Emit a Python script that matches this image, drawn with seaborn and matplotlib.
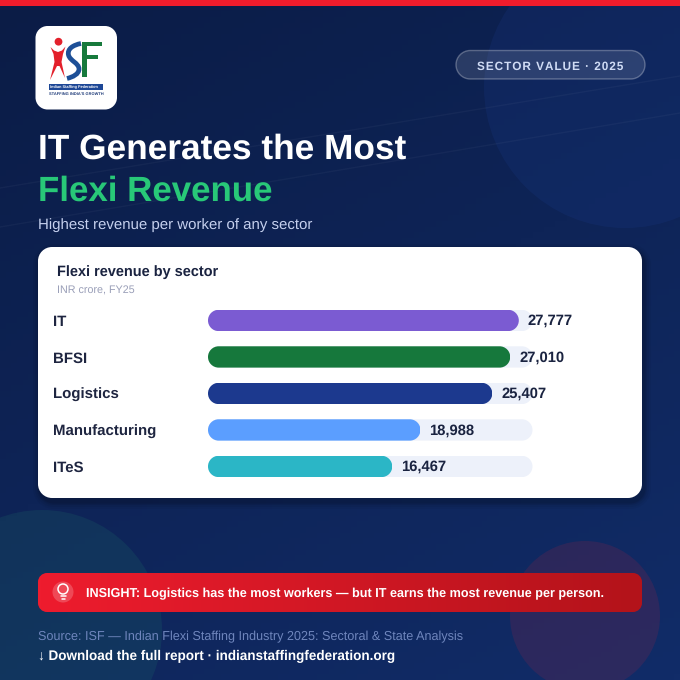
import matplotlib
matplotlib.use('Agg')
from matplotlib import pyplot as plt
from matplotlib.patches import Circle, PathPatch, Polygon, Rectangle
from matplotlib.path import Path
from matplotlib.transforms import IdentityTransform
import numpy as np
import pandas as pd
import seaborn as sns

sectors = ['IT', 'BFSI', 'Logistics', 'Manufacturing', 'ITeS']
revenue = [27777, 27010, 25407, 18988, 16467]
bar_colors = ['#7B5BD2', '#16783C', '#1C398E', '#5B9EFF', '#2BB6C6']
TRACK_MAX = 29000


def fs(px):
    # css px -> points at dpi 100
    return px * 0.72


def spaced(s):
    return '\u200a'.join(s)


def round_path(x0, y0, x1, y1, r):
    # rounded rectangle with proper circular corners (bezier kappa)
    k = r * (1 - 0.5523)
    verts = [(x0 + r, y0), (x1 - r, y0),
             (x1 - k, y0), (x1, y0 + k), (x1, y0 + r),
             (x1, y1 - r),
             (x1, y1 - k), (x1 - k, y1), (x1 - r, y1),
             (x0 + r, y1),
             (x0 + k, y1), (x0, y1 - k), (x0, y1 - r),
             (x0, y0 + r),
             (x0, y0 + k), (x0 + k, y0), (x0 + r, y0),
             (x0 + r, y0)]
    C = Path.CURVE4
    L = Path.LINETO
    codes = [Path.MOVETO, L, C, C, C, L, C, C, C, L, C, C, C, L, C, C, C, Path.CLOSEPOLY]
    return Path(verts, codes)


def rounded(ax, x0, y0, x1, y1, r, **kw):
    p = PathPatch(round_path(x0, y0, x1, y1, r), **kw)
    ax.add_patch(p)
    return p


sns.set_theme(style='white')
plt.rcParams['font.family'] = ['Liberation Sans', 'DejaVu Sans']
plt.rcParams['text.hinting'] = 'no_hinting'

fig = plt.figure(figsize=(6.8, 6.8), dpi=100)

# page layer, in pixels with y going down
bg = fig.add_axes([0, 0, 1, 1], zorder=0)
bg.set_xlim(0, 680)
bg.set_ylim(680, 0)
bg.axis('off')

yy, xx = np.mgrid[0:1:120j, 0:1:120j]
grad = 0.35 * xx + 0.65 * yy
c0 = np.array([11, 28, 70]) / 255
c1 = np.array([17, 44, 104]) / 255
bg.imshow(c0 + (c1 - c0) * grad[..., None], extent=(0, 680, 680, 0), aspect='auto', zorder=0)

bg.add_patch(Circle((625, 87), 141, fc='#1a3a8a', alpha=0.22, lw=0, zorder=1))
bg.add_patch(Circle((42, 630), 120, fc='#1f7a6a', alpha=0.18, lw=0, zorder=1))
bg.add_patch(Circle((585, 616), 75, fc='#c0203a', alpha=0.16, lw=0, zorder=1))
bg.plot([0, 680], [188, 76], color='white', alpha=0.035, lw=1, zorder=1)
bg.plot([0, 680], [227, 113], color='white', alpha=0.035, lw=1, zorder=1)
bg.add_patch(Rectangle((0, 0), 680, 6, fc='#F01C2C', lw=0, zorder=2))

# logo
rounded(bg, 35.5, 26, 117, 109.5, 12, fc='white', lw=0, zorder=3)
bg.add_patch(Circle((58.5, 41.7), 3.9, fc='#E3202B', lw=0, zorder=4))
bg.add_patch(Polygon([(50.5, 47), (54, 50.5), (58, 52), (62, 50.5), (65.5, 46.5), (63, 54), (61.5, 62),
                      (65, 78), (59.5, 66), (57, 66), (50, 80), (54.5, 62), (53.5, 54)],
                     fc='#E3202B', lw=0, zorder=4))
s_verts = [(81, 43.5), (73, 45), (67, 49), (68.5, 55), (70, 61), (79, 63), (79, 69), (79, 74), (73, 77), (67, 78.5)]
s_codes = [Path.MOVETO] + [Path.CURVE4] * 9
bg.add_patch(PathPatch(Path(s_verts, s_codes), fc='none', ec='#1D4F97', lw=3.4, capstyle='butt', zorder=4))
bg.add_patch(Rectangle((81.7, 41.7), 5.6, 35, fc='#177A3C', lw=0, zorder=4))
bg.add_patch(Rectangle((81.7, 41.7), 20, 4.3, fc='#177A3C', lw=0, zorder=4))
bg.add_patch(Rectangle((81.7, 55), 16.5, 4, fc='#177A3C', lw=0, zorder=4))
bg.add_patch(Rectangle((49, 84), 54, 6, fc='#1D4796', lw=0, zorder=4))
bg.text(50, 88.6, 'Indian Staffing Federation', color='white', fontsize=fs(3.9), fontweight='bold',
        ha='left', va='baseline', zorder=5)
bg.text(76, 94.5, "STAFFING INDIA'S GROWTH", color='#1D3A78', fontsize=fs(4), fontweight='bold',
        ha='center', va='baseline', zorder=5)

# pill
rounded(bg, 456, 50.5, 645, 79, 14.25, fc=(1, 1, 1, 0.12), ec=(1, 1, 1, 0.28), lw=1, zorder=3)
bg.text(477, 70, spaced('SECTOR VALUE · 2025'), color='#D0DCF5', fontsize=fs(11.8), fontweight='bold',
        ha='left', va='baseline', zorder=4)

# headline
bg.text(38, 159, 'IT Generates the Most', color='white', fontsize=fs(35.3), fontweight='bold',
        ha='left', va='baseline', zorder=4)
bg.text(38, 200.5, 'Flexi Revenue', color='#28C878', fontsize=fs(34.9), fontweight='bold',
        ha='left', va='baseline', zorder=4)
bg.text(38, 229, 'Highest revenue per worker of any sector', color='#C5D0EE', fontsize=fs(15),
        ha='left', va='baseline', zorder=4)

# card with soft shadow
for grow, a in [(7, 0.04), (5, 0.05), (3, 0.07), (1.5, 0.09)]:
    rounded(bg, 38 - grow + 2, 247 - grow + 4, 642 + grow + 2, 498 + grow + 4, 14 + grow,
            fc=(0, 0, 0, a), lw=0, zorder=3)
rounded(bg, 38, 247, 642, 498, 14, fc='white', lw=0, zorder=4)
bg.text(57, 276, 'Flexi revenue by sector', color='#1A2340', fontsize=fs(14.5), fontweight='bold',
        ha='left', va='baseline', zorder=5)
bg.text(57, 293.3, 'INR crore, FY25', color='#9A9FB8', fontsize=fs(10.7),
        ha='left', va='baseline', zorder=5)

# insight banner
banner = rounded(bg, 38, 573, 642, 612, 9, fc='none', lw=0, zorder=4)
im = bg.imshow(np.linspace(0, 1, 200)[None, :, None] * (np.array([179, 19, 26]) - np.array([238, 28, 46])) / 255
               + np.array([238, 28, 46]) / 255,
               extent=(38, 642, 612, 573), aspect='auto', zorder=4)
im.set_clip_path(banner)
bg.set_xlim(0, 680)
bg.set_ylim(680, 0)
bg.add_patch(Circle((63, 592), 10.5, fc=(1, 1, 1, 0.2), lw=0, zorder=5))
bg.add_patch(Circle((63, 589), 5, fc='none', ec='white', lw=1.1, zorder=6))
bg.plot([60.5, 65.5], [596, 596], color='white', lw=1.1, zorder=6)
bg.plot([61.5, 64.5], [598.5, 598.5], color='white', lw=1.1, zorder=6)
bg.text(86, 597, 'INSIGHT: Logistics has the most workers — but IT earns the most revenue per person.',
        color='white', fontsize=fs(12.65), fontweight='bold', ha='left', va='baseline', zorder=6)

# footer
bg.text(38, 640, 'Source: ISF — Indian Flexi Staffing Industry 2025: Sectoral & State Analysis',
        color='#6F86BD', fontsize=fs(12.65), ha='left', va='baseline', zorder=5)
bg.text(38, 660.5, '↓ Download the full report · indianstaffingfederation.org',
        color='white', fontsize=fs(13.55), fontweight='bold', ha='left', va='baseline', zorder=5)

# chart, axes box runs from the bar start to the track end
left, right, top, bottom = 208, 532.5, 302.2, 484.7
ax = fig.add_axes([left / 680, 1 - bottom / 680, (right - left) / 680, (bottom - top) / 680], zorder=2)
ax.patch.set_alpha(0)

df = pd.DataFrame({'sector': sectors, 'revenue': revenue})
sns.barplot(x=[TRACK_MAX] * len(sectors), y=sectors, color='#EDF1FA', saturation=1, width=0.584,
            linewidth=0, ax=ax)
sns.barplot(data=df, x='revenue', y='sector', hue='sector', palette=bar_colors, saturation=1,
            width=0.584, linewidth=0, dodge=False, legend=False, ax=ax)

ax.set_xlim(0, TRACK_MAX)
ax.set_ylim(len(sectors) - 0.5, -0.5)
ax.set_xlabel('')
ax.set_ylabel('')
ax.set_xticks([])
ax.tick_params(axis='y', length=0, pad=fs(155))
for tick in ax.get_yticklabels():
    tick.set_ha('left')
    tick.set_fontsize(fs(15))
    tick.set_fontweight('bold')
    tick.set_color('#1E2540')
sns.despine(ax=ax, left=True, bottom=True)

# round off the bar ends
for bar in ax.patches:
    box = bar.get_window_extent()
    if box.width == 0 or box.height == 0:
        continue
    bar.set_clip_path(round_path(box.x0, box.y0, box.x1, box.y1, box.height / 2), IdentityTransform())

for i, v in enumerate(revenue):
    ax.annotate(f'{v:,}', (v, i), xytext=(fs(9), -0.4), textcoords='offset points', ha='left', va='center',
                color='#1A2340', fontsize=fs(14.7), fontweight='bold', annotation_clip=False)

fig.savefig('out.png', dpi=100)
